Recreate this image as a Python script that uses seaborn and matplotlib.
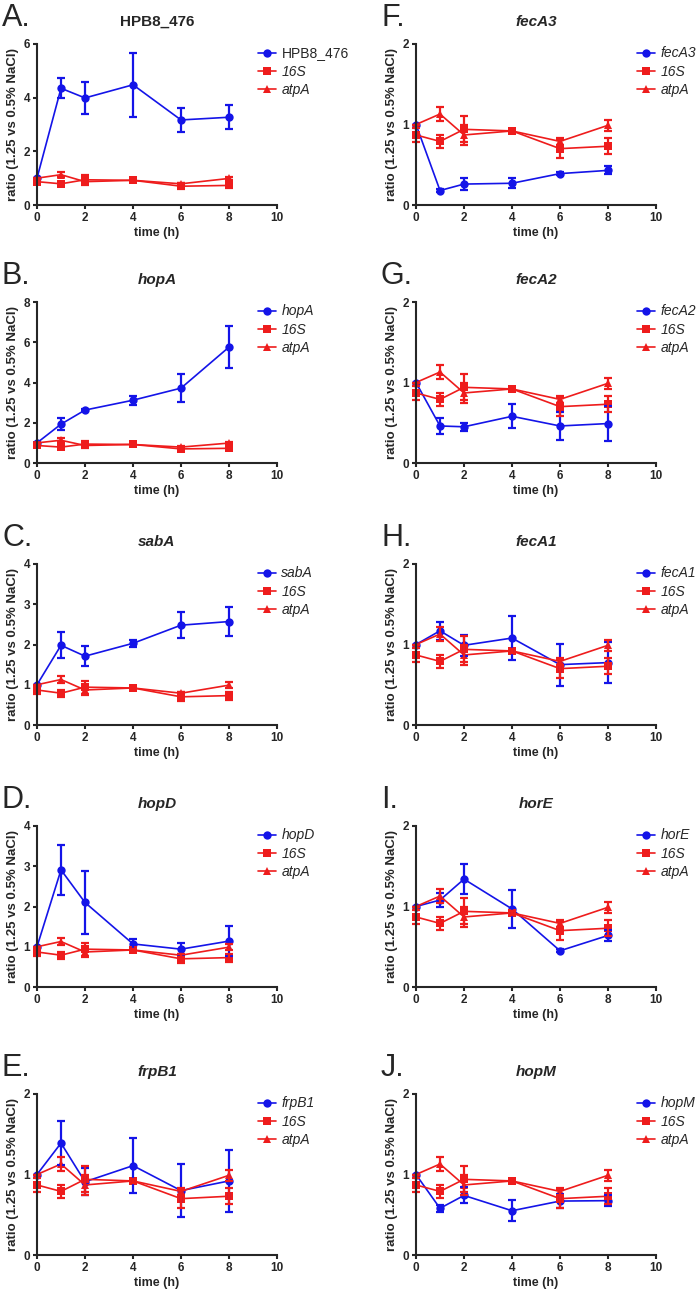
import pandas as pd
import seaborn as sns
import matplotlib.pyplot as plt

time = [0, 1, 2, 4, 6, 8]

# reference genes, identical in every panel
s16_mean = [0.87, 0.79, 0.94, 0.92, 0.70, 0.73]
s16_err = [0.09, 0.085, 0.16, 0.03, 0.11, 0.10]
atpa_mean = [1.0, 1.13, 0.87, 0.92, 0.79, 0.99]
atpa_err = [0.0, 0.09, 0.12, 0.03, 0.04, 0.07]

# target genes
hpb8_mean = [1.0, 4.35, 3.99, 4.48, 3.17, 3.27]
hpb8_err = [0.0, 0.37, 0.60, 1.20, 0.46, 0.45]
hopa_mean = [1.0, 1.93, 2.63, 3.12, 3.72, 5.76]
hopa_err = [0.0, 0.30, 0.05, 0.23, 0.70, 1.05]
saba_mean = [1.0, 1.98, 1.71, 2.03, 2.48, 2.57]
saba_err = [0.0, 0.32, 0.25, 0.09, 0.33, 0.37]
hopd_mean = [1.0, 2.91, 2.10, 1.07, 0.94, 1.14]
hopd_err = [0.0, 0.63, 0.79, 0.13, 0.15, 0.37]
frpb1_mean = [1.0, 1.39, 0.91, 1.11, 0.80, 0.92]
frpb1_err = [0.0, 0.27, 0.17, 0.34, 0.33, 0.38]
feca3_mean = [1.0, 0.18, 0.26, 0.27, 0.39, 0.43]
feca3_err = [0.0, 0.02, 0.07, 0.06, 0.02, 0.05]
feca2_mean = [1.0, 0.46, 0.45, 0.58, 0.46, 0.49]
feca2_err = [0.0, 0.10, 0.05, 0.15, 0.17, 0.22]
feca1_mean = [1.0, 1.17, 0.99, 1.08, 0.75, 0.775]
feca1_err = [0.0, 0.11, 0.13, 0.27, 0.26, 0.25]
hore_mean = [1.0, 1.08, 1.34, 0.97, 0.45, 0.64]
hore_err = [0.0, 0.09, 0.19, 0.24, 0.02, 0.07]
hopm_mean = [1.0, 0.58, 0.74, 0.55, 0.67, 0.675]
hopm_err = [0.0, 0.045, 0.10, 0.13, 0.09, 0.07]

genes = ['HPB8_476', 'hopA', 'sabA', 'hopD', 'frpB1',
         'fecA3', 'fecA2', 'fecA1', 'horE', 'hopM']
letters = ['A.', 'B.', 'C.', 'D.', 'E.', 'F.', 'G.', 'H.', 'I.', 'J.']
means = [hpb8_mean, hopa_mean, saba_mean, hopd_mean, frpb1_mean,
         feca3_mean, feca2_mean, feca1_mean, hore_mean, hopm_mean]
errs = [hpb8_err, hopa_err, saba_err, hopd_err, frpb1_err,
        feca3_err, feca2_err, feca1_err, hore_err, hopm_err]
ymax = [6, 8, 4, 4, 2, 2, 2, 2, 2, 2]
ystep = [2, 2, 1, 1, 1, 1, 1, 1, 1, 1]

BLUE = '#1414e8'
RED = '#ee1c1c'

sns.set_style('ticks')
plt.rcParams['font.family'] = ['Liberation Sans', 'DejaVu Sans']

W, H = 700, 1293
fig = plt.figure(figsize=(W / 100, H / 100), dpi=100)

col_left = [37, 416]
row_top = [44, 302, 564, 826, 1094]
ax_w, ax_h = 240, 161

for i, gene in enumerate(genes):
    col, row = divmod(i, 5)
    left = col_left[col] / W
    bottom = 1 - (row_top[row] + ax_h) / H
    ax = fig.add_axes([left, bottom, ax_w / W, ax_h / H])

    df = pd.DataFrame({
        'time': time * 3,
        'ratio': means[i] + s16_mean + atpa_mean,
        'series': [gene] * 6 + ['16S'] * 6 + ['atpA'] * 6,
    })
    sns.lineplot(data=df, x='time', y='ratio', hue='series', style='series',
                 palette={gene: BLUE, '16S': RED, 'atpA': RED},
                 markers={gene: 'o', '16S': 's', 'atpA': '^'},
                 dashes=False, markersize=6, markeredgewidth=0,
                 linewidth=1.2, errorbar=None, clip_on=False, ax=ax)

    for vals, e, c in [(means[i], errs[i], BLUE),
                       (s16_mean, s16_err, RED),
                       (atpa_mean, atpa_err, RED)]:
        ax.errorbar(time, vals, yerr=e, fmt='none', ecolor=c,
                    elinewidth=1.6, capsize=2.7, capthick=1.6, clip_on=False)

    ax.set_xlim(0, 10)
    ax.set_ylim(0, ymax[i])
    ax.set_xticks(range(0, 11, 2))
    ax.set_yticks(range(0, ymax[i] + 1, ystep[i]))
    sns.despine(ax=ax)
    for sp in ['left', 'bottom']:
        ax.spines[sp].set_linewidth(1.5)
    ax.tick_params(length=3, width=1.5, labelsize=8.5, pad=2)
    for lab in ax.get_xticklabels() + ax.get_yticklabels():
        lab.set_fontweight('bold')

    ax.set_xlabel('time (h)', fontsize=9, fontweight='bold', labelpad=2)
    ax.set_ylabel('ratio (1.25 vs 0.5% NaCl)', fontsize=9.5,
                  fontweight='bold', labelpad=3)

    style = 'normal' if gene == 'HPB8_476' else 'italic'
    ax.set_title(gene, fontsize=11, fontweight='bold', fontstyle=style, pad=13)
    ax.annotate(letters[i], xy=(0, 1), xycoords='axes fraction',
                xytext=(-35, 18), textcoords='offset pixels',
                fontsize=22, va='baseline', ha='left')

    leg = ax.legend(loc='upper left', bbox_to_anchor=(0.92, 0.985),
                    frameon=False, fontsize=10, handlelength=1.3,
                    handletextpad=0.4, borderpad=0, borderaxespad=0,
                    labelspacing=0.3)
    for t in leg.get_texts():
        if t.get_text() != 'HPB8_476':
            t.set_fontstyle('italic')

fig.savefig('out.png', dpi=100)
